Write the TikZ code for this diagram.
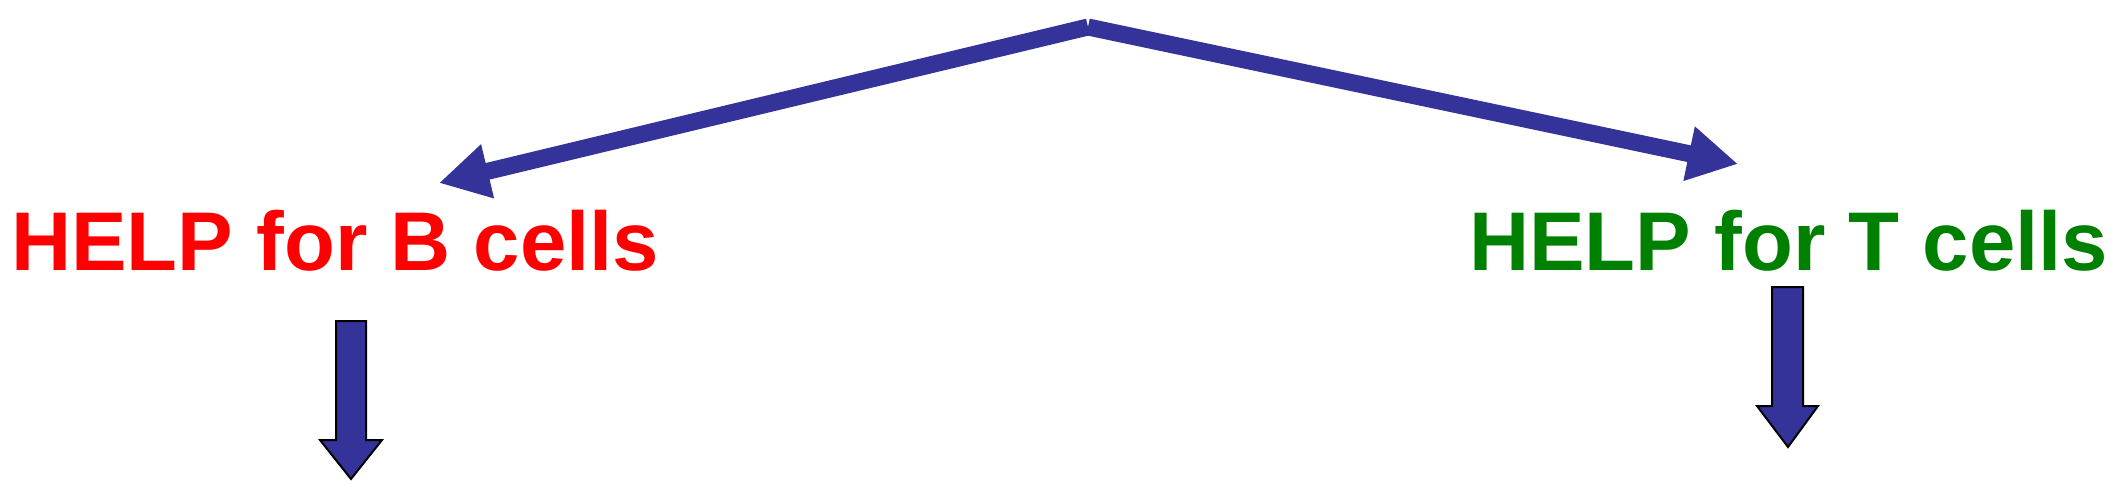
\documentclass[tikz,border=0pt]{standalone}
\usepackage{fontspec}
\setmainfont{Liberation Sans}
\usetikzlibrary{arrows.meta}
\definecolor{arrowblue}{RGB}{51,51,153}
\definecolor{helpred}{RGB}{255,0,0}
\definecolor{helpgreen}{RGB}{0,128,0}
\tikzset{
  helptext/.style={inner sep=0pt, anchor=base west, font=\fontsize{83.3}{100}\selectfont\bfseries},
  slantarrow/.style={draw=arrowblue, line width=17pt, line cap=butt,
    -{Triangle[length=50pt,width=52pt]}},
  blockarrow/.style={fill=arrowblue, draw=black, line width=2pt, line join=miter}
}
\begin{document}
\begin{tikzpicture}[x=1pt,y=-1pt]
\useasboundingbox (0,0) rectangle (2116,492);
\coordinate (apex) at (1088,27);
\coordinate (ltip) at (439,183);
\coordinate (rtip) at (1738,164);
\node[helptext, text=helpred] (bhelp) at (11,270) {HELP for B cells};
\node[helptext, text=helpgreen] (thelp) at (1469,270) {HELP for T cells};
\draw[slantarrow] (apex) -- (ltip);
\draw[slantarrow] (apex) -- (rtip);
% down block arrows
\draw[blockarrow] (336,321) -- (366,321) -- (366,440) -- (382,440) -- (351,479) -- (320,440) -- (336,440) -- cycle;
\draw[blockarrow] (1772,287) -- (1803,287) -- (1803,406) -- (1818,406) -- (1788,447) -- (1757,406) -- (1772,406) -- cycle;
\end{tikzpicture}
\end{document}
